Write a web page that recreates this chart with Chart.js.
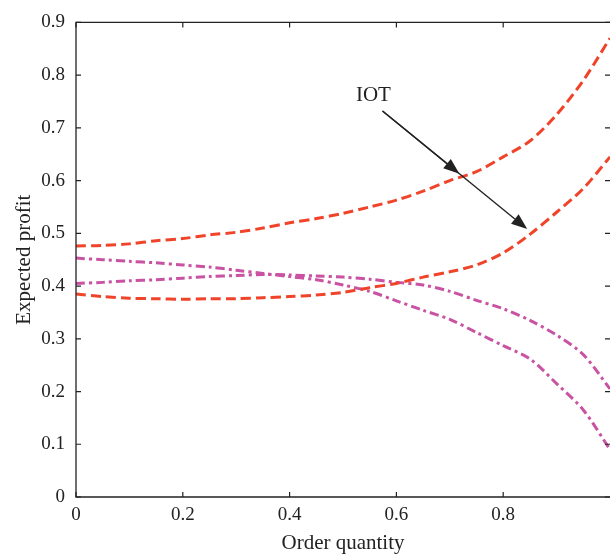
<!DOCTYPE html>
<html>
<head>
<meta charset="utf-8">
<script src="https://cdn.jsdelivr.net/npm/chart.js@4.4.1/dist/chart.umd.min.js"></script>
<style>
  html, body { margin: 0; padding: 0; background: #fff; }
  #wrap { width: 610px; height: 556px; }
</style>
</head>
<body>
<div id="wrap"><canvas id="myChart" width="610" height="556"></canvas></div>
<script>
// order quantity samples
var qty = [0, 0.05, 0.1, 0.15, 0.2, 0.25, 0.3, 0.35, 0.4, 0.45, 0.5, 0.55, 0.6, 0.65, 0.7, 0.75, 0.8, 0.85, 0.9, 0.95, 1.0];

// red dashed curves
var redUpper = [0.476, 0.477, 0.480, 0.486, 0.490, 0.497, 0.502, 0.510, 0.520, 0.528, 0.538, 0.550, 0.563, 0.580, 0.600, 0.617, 0.645, 0.675, 0.725, 0.790, 0.870];
var redLower = [0.385, 0.380, 0.377, 0.376, 0.375, 0.376, 0.376, 0.378, 0.380, 0.383, 0.388, 0.397, 0.405, 0.417, 0.427, 0.440, 0.463, 0.498, 0.540, 0.585, 0.645];

// magenta dash-dot curves
var pinkA = [0.453, 0.450, 0.447, 0.444, 0.440, 0.436, 0.430, 0.424, 0.418, 0.412, 0.402, 0.390, 0.372, 0.354, 0.337, 0.312, 0.287, 0.262, 0.215, 0.165, 0.090];
var pinkB = [0.405, 0.407, 0.410, 0.412, 0.415, 0.418, 0.420, 0.422, 0.421, 0.419, 0.417, 0.413, 0.407, 0.402, 0.390, 0.373, 0.357, 0.335, 0.307, 0.270, 0.205];

var xTicks = [0, 0.2, 0.4, 0.6, 0.8];
var yTicks = [0, 0.1, 0.2, 0.3, 0.4, 0.5, 0.6, 0.7, 0.8, 0.9];

// annotation, in data units
var noteText = 'IOT';
var notePos = { x: 0.557, y: 0.762 };
var arrowFrom = { x: 0.574, y: 0.732 };
var arrowTips = [{ x: 0.718, y: 0.613 }, { x: 0.845, y: 0.508 }];

function pts(ys) {
  return qty.map(function (q, i) { return { x: q, y: ys[i] }; });
}

var RED = '#f0442a';
var PINK = '#c952a2';
var FONT = "'Liberation Serif', 'DejaVu Serif', serif";

var framePlugin = {
  id: 'frame',
  afterDraw: function (chart) {
    var ctx = chart.ctx;
    var a = chart.chartArea;
    var xs = chart.scales.x, ys = chart.scales.y;
    var right = chart.width + 1; // box edge sits just past the picture
    ctx.save();
    ctx.strokeStyle = '#222';
    ctx.lineWidth = 1.3;
    ctx.beginPath();
    ctx.moveTo(right, a.top); ctx.lineTo(a.left, a.top);
    ctx.lineTo(a.left, a.bottom); ctx.lineTo(right, a.bottom);
    ctx.stroke();
    // inward ticks
    ctx.lineWidth = 1.2;
    ctx.beginPath();
    xTicks.forEach(function (v) {
      var px = xs.getPixelForValue(v);
      ctx.moveTo(px, a.bottom); ctx.lineTo(px, a.bottom - 5);
      ctx.moveTo(px, a.top); ctx.lineTo(px, a.top + 5);
    });
    yTicks.forEach(function (v) {
      var py = ys.getPixelForValue(v);
      ctx.moveTo(a.left, py); ctx.lineTo(a.left + 5, py);
      ctx.moveTo(right, py); ctx.lineTo(right - 6, py);
    });
    ctx.stroke();

    // IOT label and arrows
    ctx.fillStyle = '#222';
    ctx.font = '21px ' + FONT;
    ctx.textAlign = 'center';
    ctx.textBaseline = 'middle';
    ctx.fillText(noteText, xs.getPixelForValue(notePos.x), ys.getPixelForValue(notePos.y));
    var sx = xs.getPixelForValue(arrowFrom.x), sy = ys.getPixelForValue(arrowFrom.y);
    arrowTips.forEach(function (t) {
      var tx = xs.getPixelForValue(t.x), ty = ys.getPixelForValue(t.y);
      var ang = Math.atan2(ty - sy, tx - sx);
      var hl = 16, hw = 6;
      var bx = tx - hl * Math.cos(ang), by = ty - hl * Math.sin(ang);
      ctx.strokeStyle = '#222';
      ctx.lineWidth = 1.4;
      ctx.beginPath();
      ctx.moveTo(sx, sy); ctx.lineTo(bx, by);
      ctx.stroke();
      ctx.beginPath();
      ctx.moveTo(tx, ty);
      ctx.lineTo(bx + hw * Math.sin(ang), by - hw * Math.cos(ang));
      ctx.lineTo(bx - hw * Math.sin(ang), by + hw * Math.cos(ang));
      ctx.closePath();
      ctx.fill();
    });
    ctx.restore();
  }
};

var chartData = {
  datasets: [
    { label: 'redUpper', data: pts(redUpper), borderColor: RED, borderWidth: 3, borderDash: [10, 5], tension: 0.3 },
    { label: 'redLower', data: pts(redLower), borderColor: RED, borderWidth: 3, borderDash: [10, 5], tension: 0.3 },
    { label: 'pinkA', data: pts(pinkA), borderColor: PINK, borderWidth: 3, borderDash: [9, 4, 3, 4], tension: 0.3 },
    { label: 'pinkB', data: pts(pinkB), borderColor: PINK, borderWidth: 3, borderDash: [9, 4, 3, 4], tension: 0.3 }
  ]
};

var chart = document.getElementById('myChart').getContext('2d');
var myChart = new Chart(chart, {
  type: 'line',
  data: chartData,
  plugins: [framePlugin],
  options: {
    responsive: false,
    animation: false,
    layout: { padding: { top: 20, right: 0, left: 12, bottom: 0 } },
    elements: { point: { radius: 0 } },
    scales: {
      x: {
        type: 'linear',
        min: 0,
        max: 1,
        afterFit: function (s) { s.height = 59; },
        afterBuildTicks: function (s) { s.ticks = xTicks.map(function (v) { return { value: v }; }); },
        grid: { display: false, drawTicks: false },
        border: { display: false },
        ticks: { padding: 7, color: '#222', font: { family: FONT, size: 19 }, maxRotation: 0 },
        title: { display: true, text: 'Order quantity', color: '#222', font: { family: FONT, size: 21 }, padding: { top: 0, bottom: 0 } }
      },
      y: {
        min: 0,
        max: 0.9,
        afterFit: function (s) { s.width = 64; },
        afterBuildTicks: function (s) { s.ticks = yTicks.map(function (v) { return { value: v }; }); },
        grid: { display: false, drawTicks: false },
        border: { display: false },
        ticks: { padding: 11, color: '#222', font: { family: FONT, size: 19 } },
        title: { display: true, text: 'Expected profit', color: '#222', font: { family: FONT, size: 21 }, padding: { top: 0, bottom: 0 } }
      }
    },
    plugins: {
      legend: { display: false },
      tooltip: { enabled: false }
    }
  }
});
</script>
</body>
</html>
